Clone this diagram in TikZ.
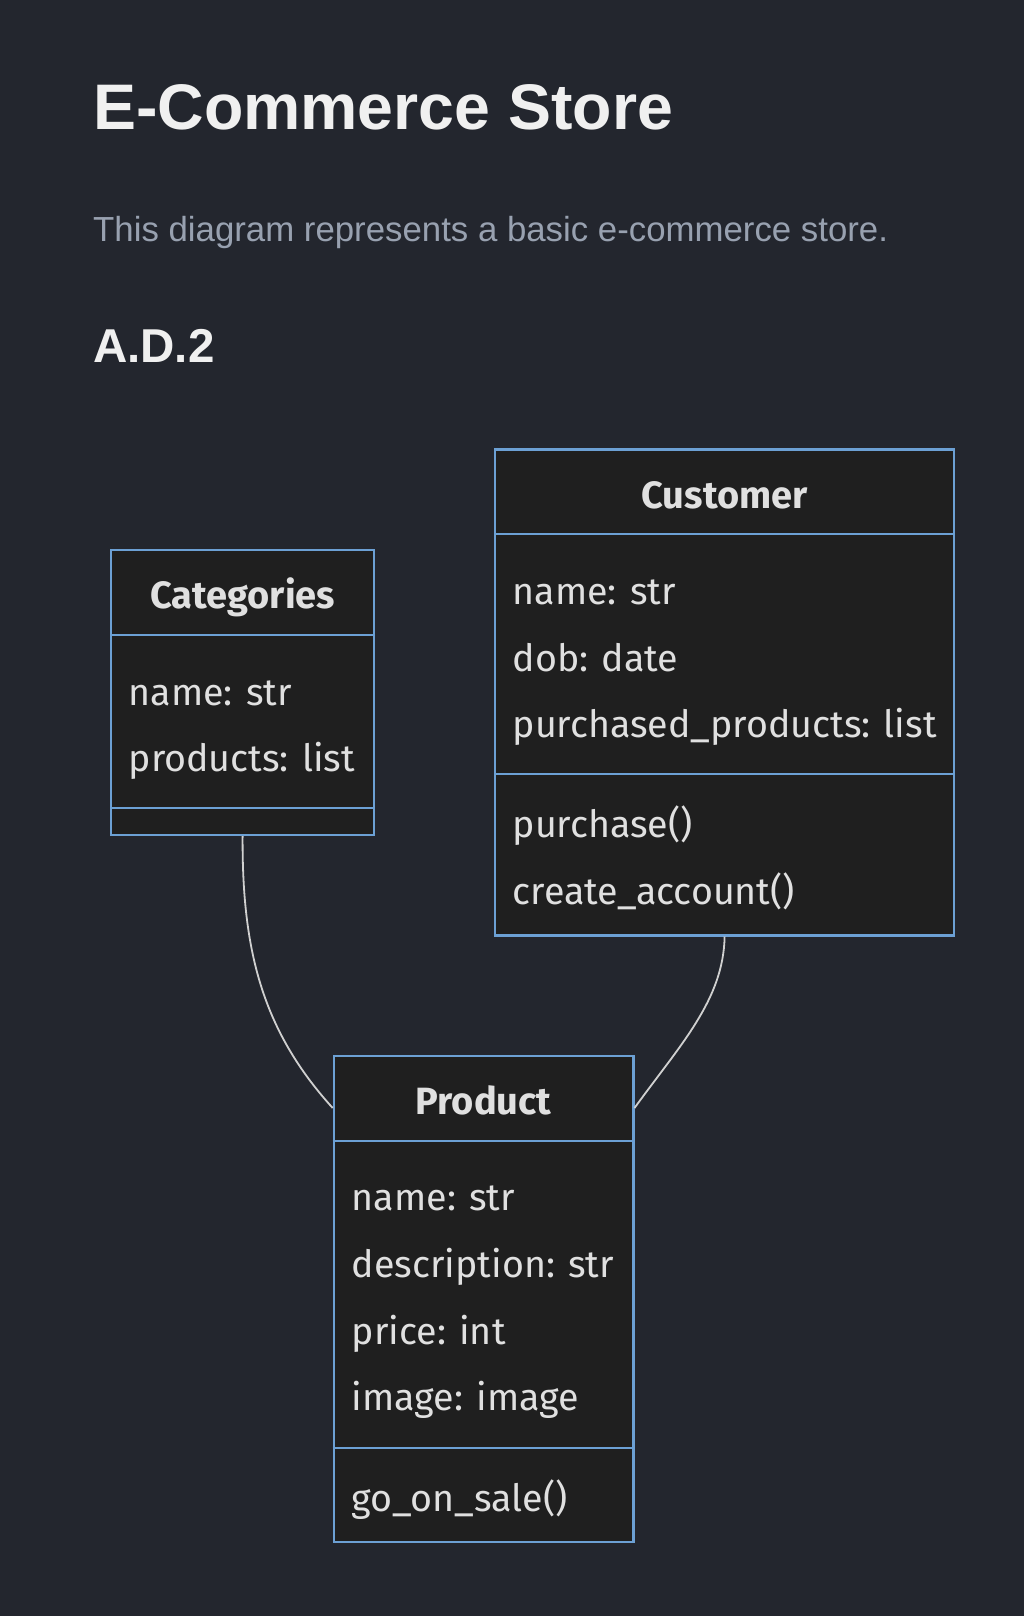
\documentclass[tikz,border=0pt]{standalone}
\usepackage{fontspec}
\setmainfont{Liberation Sans}
\newfontfamily\boxfont{Fira Sans}
\usetikzlibrary{calc}
\definecolor{bgcol}{RGB}{35,38,46}
\definecolor{boxfill}{RGB}{31,31,31}
\definecolor{boxline}{RGB}{108,160,212}
\definecolor{boxtext}{RGB}{224,224,224}
\definecolor{titlecol}{RGB}{240,240,240}
\definecolor{subcol}{RGB}{152,161,176}
\definecolor{linkcol}{RGB}{208,208,208}
\tikzset{
  classbox/.style={draw=boxline, fill=boxfill, line width=2.2pt, inner sep=0pt, anchor=north west},
  sepline/.style={draw=boxline, line width=2.2pt},
  member/.style={anchor=base west, inner sep=0pt, text=boxtext, font=\boxfont\fontsize{37.6}{40}\selectfont},
  classname/.style={anchor=base, inner sep=0pt, text=boxtext, font=\boxfont\fontsize{38}{40}\selectfont\bfseries},
  link/.style={draw=linkcol, line width=1.8pt}
}
\begin{document}
\begin{tikzpicture}[x=1pt,y=-1pt]
\fill[bgcol] (0,0) rectangle (1024,1616);
\useasboundingbox (0,0) rectangle (1024,1616);

\node[anchor=base west, inner sep=0pt, text=titlecol, font=\fontsize{64.4}{70}\selectfont\bfseries] (title) at (93,130) {E-Commerce Store};
\node[anchor=base west, inner sep=0pt, text=subcol, font=\fontsize{34.8}{40}\selectfont] (subtitle) at (93,241.7) {This diagram represents a basic e-commerce store.};
\node[anchor=base west, inner sep=0pt, text=titlecol, font=\fontsize{47.5}{52}\selectfont\bfseries] (ad) at (93,362.6) {A.D.2};

% Categories
\node[classbox, minimum width=263pt, minimum height=285pt] (cat) at (110,549) {};
\draw[sepline] ($(cat.north west)+(0,86)$) -- ($(cat.north east)+(0,86)$);
\draw[sepline] ($(cat.north west)+(0,258.7)$) -- ($(cat.north east)+(0,258.7)$);
\node[classname] (catT) at ($(cat.north)+(0,59.5)$) {Categories};
\node[member] (cat1) at (128.5,705) {name: str};
\node[member] (cat2) at (128.5,771.7) {products: list};

% Customer
\node[classbox, minimum width=459pt, minimum height=486pt] (cust) at (494,448.3) {};
\draw[sepline] ($(cust.north west)+(0,86)$) -- ($(cust.north east)+(0,86)$);
\draw[sepline] ($(cust.north west)+(0,326)$) -- ($(cust.north east)+(0,326)$);
\node[classname] (custT) at ($(cust.north)+(0,59.7)$) {Customer};
\node[member] (cust1) at (512.5,604.3) {name: str};
\node[member] (cust2) at (512.5,671) {dob: date};
\node[member] (cust3) at (512.5,737.7) {purchased\_products: list};
\node[member] (cust4) at (512.5,837.7) {purchase()};
\node[member] (cust5) at (512.5,904.4) {create\_account()};

% Product
\node[classbox, minimum width=299.6pt, minimum height=486pt] (prod) at (332.7,1055) {};
\draw[sepline] ($(prod.north west)+(0,85.7)$) -- ($(prod.north east)+(0,85.7)$);
\draw[sepline] ($(prod.north west)+(0,393.3)$) -- ($(prod.north east)+(0,393.3)$);
\node[classname] (prodT) at ($(prod.north)+(0,59)$) {Product};
\node[member] (prod1) at (351.7,1210.7) {name: str};
\node[member] (prod2) at (351.7,1277.4) {description: str};
\node[member] (prod3) at (351.7,1344.1) {price: int};
\node[member] (prod4) at (351.7,1410.8) {image: image};
\node[member] (prod5) at (351.7,1511.7) {go\_on\_sale()};

% connectors
\coordinate (pl) at ($(prod.north west)+(0,53)$);
\coordinate (pr) at ($(prod.north east)+(0,53)$);
\draw[link] (cat.south) .. controls (242,950) and (262,1030) .. (pl);
\draw[link] (cust.south) .. controls (723.5,1000) and (680,1045) .. (pr);
\end{tikzpicture}
\end{document}
